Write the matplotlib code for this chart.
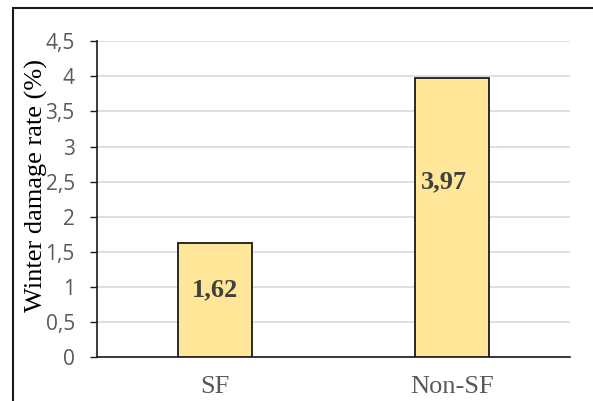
import matplotlib
matplotlib.use("Agg")
import matplotlib.pyplot as plt
from matplotlib.patches import Rectangle
from matplotlib.ticker import FixedLocator, FuncFormatter

# Data
categories = ["SF", "Non-SF"]
damage_rate = [1.62, 3.97]
y_ticks = [0, 0.5, 1, 1.5, 2, 2.5, 3, 3.5, 4, 4.5]

# Heights at which the value labels sit inside the bars
label_heights = [0.96, 2.5]
label_dx = [0.0, -0.035]

fig = plt.figure(figsize=(5.93, 4.01), dpi=100)
ax = fig.add_axes([97 / 593, 1 - 357 / 401, (570 - 97) / 593, (357 - 41.3) / 401])

x = list(range(len(categories)))
ax.bar(x, damage_rate, width=0.313, color="#FFE699", edgecolor="#1a1a1a",
       linewidth=1.3, zorder=3)

for xi, v, h, dx in zip(x, damage_rate, label_heights, label_dx):
    ax.text(xi + dx, h, f"{v:.2f}".replace(".", ","), ha="center", va="center",
            fontsize=19, fontweight="bold", family="Liberation Serif",
            color="#404040", zorder=4)

ax.set_xlim(-0.5, 1.5)
ax.set_ylim(0, 4.5)
ax.yaxis.set_major_locator(FixedLocator(y_ticks))
ax.yaxis.set_major_formatter(FuncFormatter(lambda v, p: f"{v:g}".replace(".", ",")))
ax.grid(axis="y", color="#d9d9d9", linewidth=1.2, zorder=0)
ax.set_axisbelow(True)

ax.set_xticks(x)
ax.set_xticklabels(categories, family="Liberation Serif", fontsize=19, color="#595959")
ax.tick_params(axis="x", length=0, pad=14)
ax.tick_params(axis="y", direction="out", length=5, width=1, color="#1a1a1a",
               pad=11, labelsize=15, labelcolor="#595959")
for lab in ax.get_yticklabels():
    lab.set_family("Open Sans")

for side in ("top", "right"):
    ax.spines[side].set_visible(False)
ax.spines["left"].set_color("#1a1a1a")
ax.spines["left"].set_linewidth(1.2)
ax.spines["bottom"].set_color("#1a1a1a")
ax.spines["bottom"].set_linewidth(1.2)

fig.text(36 / 593, 1 - 186 / 401, "Winter damage rate (%)", rotation=90,
         ha="center", va="center", family="Liberation Serif", fontsize=19,
         color="black")

# Outer frame around the chart area
fig.patches.append(Rectangle((13 / 593, -0.2), 1.2, 1.2 - 8 / 401,
                             transform=fig.transFigure, fill=False,
                             edgecolor="#1a1a1a", linewidth=1.5))

fig.savefig("out.png", dpi=100)
